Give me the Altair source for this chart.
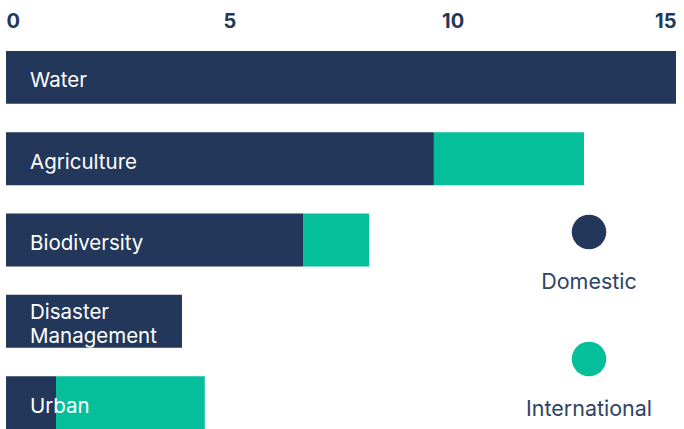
import altair as alt
import pandas as pd

categories = ["Water", "Agriculture", "Biodiversity", "Disaster Management", "Urban"]
label_text = ["Water", "Agriculture", "Biodiversity", "Disaster\nManagement", "Urban"]
domestic = [15.0, 9.58, 6.65, 3.94, 1.12]
international = [0.0, 3.36, 1.48, 0.0, 3.33]
series = ["Domestic", "International"]
colors = ["#22375a", "#04bf9a"]
x_ticks = [0, 5, 10, 15]

rows = []
for c, d, i in zip(categories, domestic, international):
    rows.append({"category": c, "series": "Domestic", "value": d, "order": 0})
    rows.append({"category": c, "series": "International", "value": i, "order": 1})
df = pd.DataFrame(rows)
labels_df = pd.DataFrame({"category": categories, "label": label_text})
labels_df["multi"] = labels_df["label"].str.contains("\n")
legend_df = pd.DataFrame({"series": series})

color_enc = alt.Color("series:N", scale=alt.Scale(domain=series, range=colors), legend=None)
y_enc = alt.Y("category:N", sort=categories,
              scale=alt.Scale(paddingInner=0.35, paddingOuter=0), axis=None)

bars = alt.Chart(df).mark_bar().encode(
    x=alt.X("value:Q", stack="zero",
            scale=alt.Scale(domain=[0, 15], nice=False),
            axis=alt.Axis(orient="top", values=x_ticks, title=None, grid=False,
                          domain=False, ticks=False, tickSize=0, labelPadding=24,
                          labelBaseline="alphabetic", labelFont="Inter",
                          labelFontSize=20, labelFontWeight="bold",
                          labelColor="#22375a", labelFlush=True)),
    y=y_enc,
    color=color_enc,
    order=alt.Order("order:Q"),
)

text_style = dict(align="left", baseline="middle", lineBreak="\n", color="white",
                  font="Inter", fontSize=20.5, lineHeight=24)

labels_single = alt.Chart(labels_df).transform_filter(
    "!datum.multi"
).mark_text(dy=4, **text_style).encode(x=alt.value(24), y=y_enc, text="label:N")

labels_multi = alt.Chart(labels_df).transform_filter(
    "datum.multi"
).mark_text(dy=-8, **text_style).encode(x=alt.value(24), y=y_enc, text="label:N")

main = alt.layer(bars, labels_single, labels_multi)

leg_y = alt.Y("series:N", scale=alt.Scale(domain=series, range=[181, 308], padding=0), axis=None)

leg_pts = alt.Chart(legend_df).mark_point(
    filled=True, shape="circle", size=1195, opacity=1
).encode(x=alt.value(583), y=leg_y, color=color_enc)

leg_txt = alt.Chart(legend_df).mark_text(
    align="center", baseline="middle", font="Inter", fontSize=21.5,
    color="#2e4466", dy=51
).encode(x=alt.value(583), y=leg_y, text="series:N")

chart = alt.layer(main, leg_pts, leg_txt).resolve_scale(
    y="independent"
).properties(
    width=670, height=378,
    autosize=alt.AutoSizeParams(type="none"),
    padding={"left": 6, "top": 51, "right": 8, "bottom": 0},
).configure_view(stroke=None)

chart.save("out.html", embed_options={"renderer": "svg", "actions": False})
